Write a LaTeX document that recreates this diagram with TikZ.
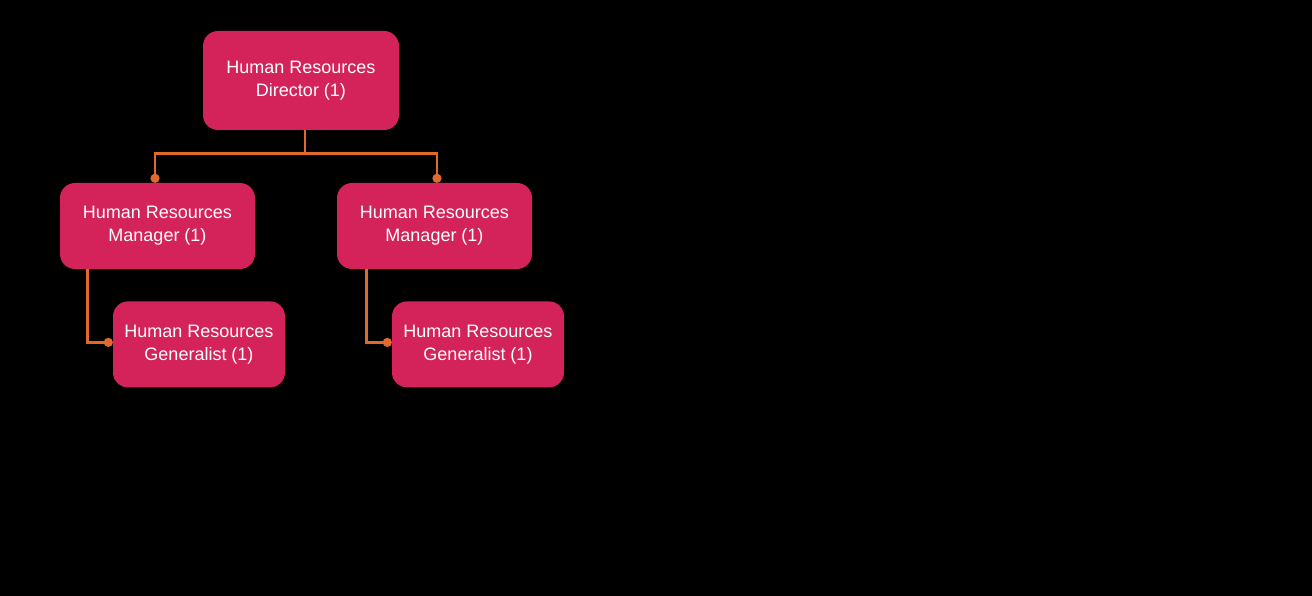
\documentclass[tikz,border=0pt]{standalone}
\usepackage{fontspec}
\setmainfont{Liberation Sans}
\usepackage{xcolor}
\usepackage{tikz}
\usetikzlibrary{positioning,arrows.meta}
\definecolor{hrred}{HTML}{D4235A}
\definecolor{hrline}{HTML}{E0692B}

\begin{document}
\begin{tikzpicture}[
  x=1pt, y=-1pt,
  node distance=32pt and 53pt,
  role/.style={fill=hrred, rounded corners=15pt, align=center, text=white, font=\fontsize{18}{23}\selectfont, inner sep=0pt},
  mgr/.style={role, minimum width=195pt, minimum height=86pt},
  gen/.style={role, minimum width=172pt, minimum height=86pt},
  link/.style={draw=hrline, line width=2.7pt, -{Circle[length=9pt]}}
]
\fill[black] (0,0) rectangle (1312,596);

\node[role, minimum width=196pt, minimum height=99pt] (dir) at (301,80.5) {Human Resources\\Director (1)};
\node[mgr] (mgr1) at (157.5,226) {Human Resources\\Manager (1)};
\node[mgr] (mgr2) at (434.5,226) {Human Resources\\Manager (1)};
\node[gen, below=32pt of mgr1.south west, anchor=north west, xshift=53pt] (gen1) {Human Resources\\Generalist (1)};
\node[gen, below=32pt of mgr2.south west, anchor=north west, xshift=55pt] (gen2) {Human Resources\\Generalist (1)};

\draw[link] ([xshift=4pt]dir.south) -- ++(0,23) -| ([xshift=-2.5pt]mgr1.north);
\draw[link] ([xshift=4pt]dir.south) -- ++(0,23) -| ([xshift=2.5pt]mgr2.north);
\draw[link] ([xshift=28pt]mgr1.south west) |- ([yshift=2pt]gen1.west);
\draw[link] ([xshift=30pt]mgr2.south west) |- ([yshift=2pt]gen2.west);
\end{tikzpicture}
\end{document}
